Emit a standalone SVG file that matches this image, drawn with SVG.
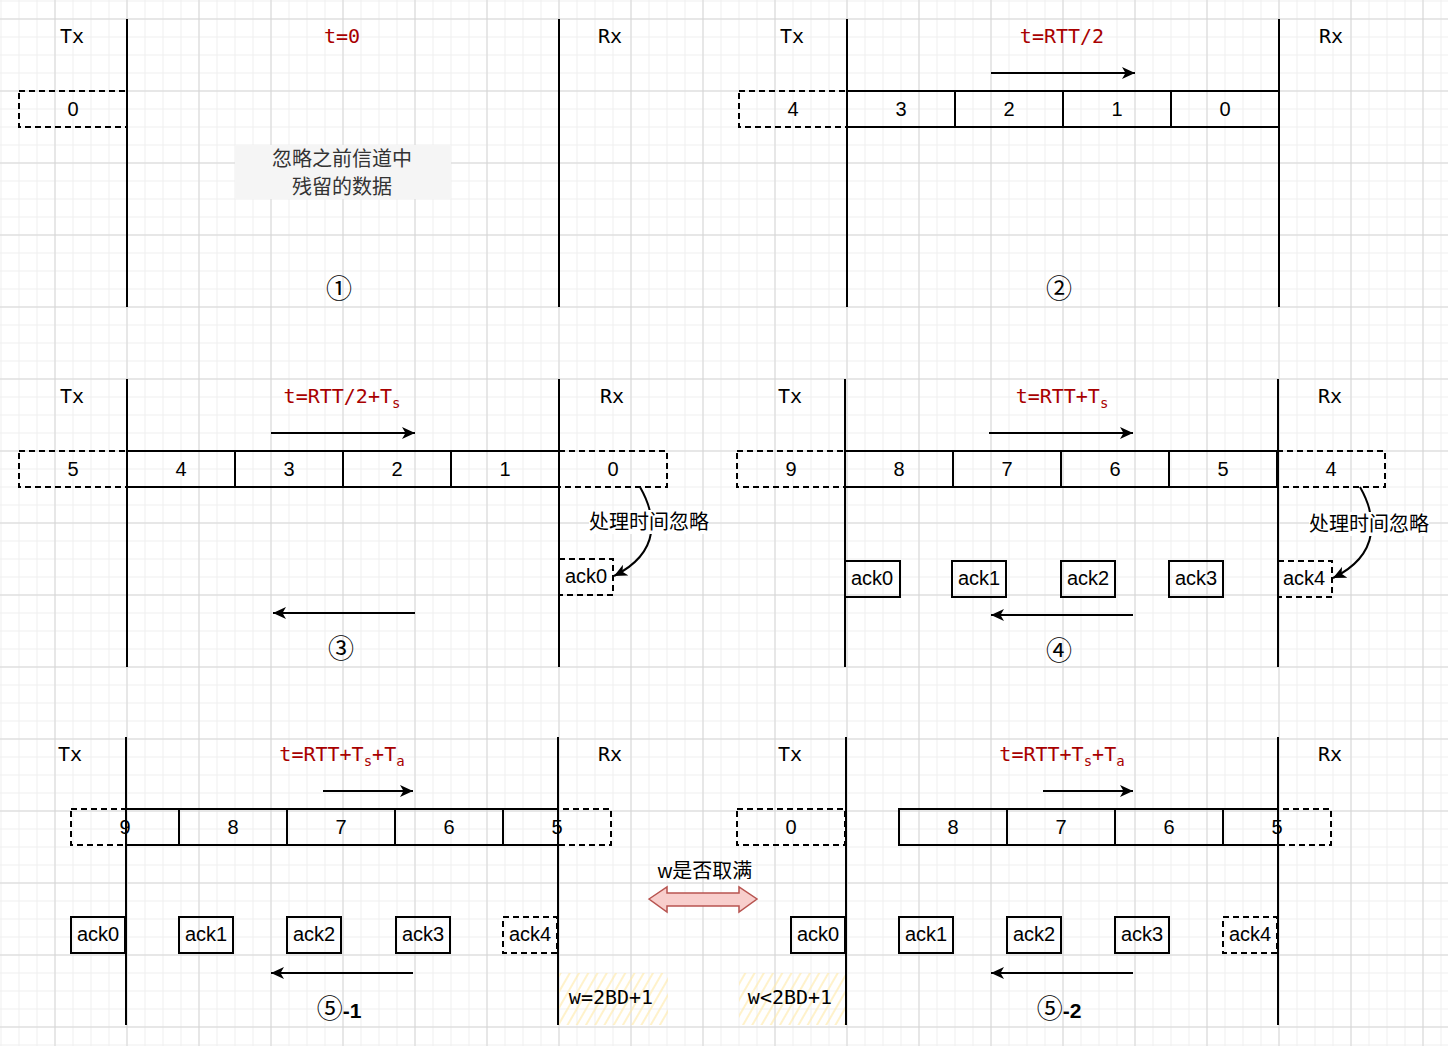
<svg xmlns="http://www.w3.org/2000/svg" width="1448" height="1046" viewBox="0 0 1448 1046">
<style>
.lane{stroke:#000;stroke-width:2;fill:none}
.box{fill:none;stroke:#000;stroke-width:2}
.dash{fill:none;stroke:#000;stroke-width:2;stroke-dasharray:6 4}
.lbl{font-family:"Liberation Sans",Arial,sans-serif;font-size:20px;fill:#000;text-anchor:middle}
.mono{font-family:"DejaVu Sans Mono",monospace;font-size:20px;fill:#000;text-anchor:middle}
.red{font-family:"DejaVu Sans Mono",monospace;font-size:20px;fill:#a80000;text-anchor:middle}
.cjk{font-family:"Liberation Sans","Noto Sans CJK SC",sans-serif;font-size:20px;fill:#000;text-anchor:middle}
.num{font-family:"Noto Sans CJK SC","DejaVu Sans",sans-serif;font-size:26px;fill:#000;text-anchor:middle}
.bnum{font-family:"Liberation Sans",Arial,sans-serif;font-weight:bold;font-size:21px}
.arr{stroke:#000;stroke-width:2;fill:none;marker-end:url(#ah)}
.sub{font-size:14px}
</style>
<defs>
<pattern id="minor" width="18" height="18" patternUnits="userSpaceOnUse" x="0.5" y="0.5">
<path d="M0.5 0 V18 M0 0.5 H18" stroke="#efefef" stroke-width="1" fill="none"/>
</pattern>
<pattern id="major" width="72" height="72" patternUnits="userSpaceOnUse" x="54.5" y="18.5">
<path d="M0.5 0 V72 M0 0.5 H72" stroke="#d6d6d6" stroke-width="1" fill="none"/>
</pattern>
<pattern id="hatch" width="8" height="8" patternUnits="userSpaceOnUse" patternTransform="rotate(-60)">
<path d="M0 4 H8" stroke="#ffe9a8" stroke-width="1.2" fill="none"/>
</pattern>
<marker id="ah" markerWidth="14" markerHeight="12" refX="13" refY="6" orient="auto" markerUnits="userSpaceOnUse">
<path d="M0,0 L13,6 L0,12 L3.5,6 z" fill="#000"/>
</marker>
</defs>
<rect x="0" y="0" width="1448" height="1046" fill="#fff"/>
<rect x="0" y="0" width="1448" height="1046" fill="url(#minor)"/>
<rect x="0" y="0" width="1448" height="1046" fill="url(#major)"/>

<!-- hatched areas -->
<g id="hatch1"><rect x="559" y="973" width="109" height="52" fill="url(#hatch)"/><text class="mono" x="611" y="1004">w=2BD+1</text></g>
<g id="hatch2"><rect x="739" y="973" width="107" height="52" fill="url(#hatch)"/><text class="mono" x="790" y="1004">w&lt;2BD+1</text></g>

<!-- lanes -->
<g id="lanes">
<line class="lane" x1="127" y1="19" x2="127" y2="307"/>
<line class="lane" x1="559" y1="19" x2="559" y2="307"/>
<line class="lane" x1="847" y1="19" x2="847" y2="307"/>
<line class="lane" x1="1279" y1="19" x2="1279" y2="307"/>
<line class="lane" x1="127" y1="379" x2="127" y2="667"/>
<line class="lane" x1="559" y1="379" x2="559" y2="667"/>
<line class="lane" x1="845" y1="379" x2="845" y2="667"/>
<line class="lane" x1="1278" y1="379" x2="1278" y2="667"/>
<line class="lane" x1="126" y1="737" x2="126" y2="1025"/>
<line class="lane" x1="558" y1="737" x2="558" y2="1025"/>
<line class="lane" x1="846" y1="737" x2="846" y2="1025"/>
<line class="lane" x1="1278" y1="737" x2="1278" y2="1025"/>
</g>

<!-- Panel 1 -->
<g id="panel1">
<text class="mono" x="72" y="43">Tx</text>
<text class="red" x="342" y="43">t=0</text>
<text class="mono" x="610" y="43">Rx</text>
<g id="p1-b0"><rect class="dash" x="19" y="91" width="108" height="36"/><text class="lbl" x="73" y="116">0</text></g>
<g id="p1-note"><rect x="235" y="145" width="216" height="54" fill="#f5f5f5"/>
<text class="cjk" x="342" y="166" style="fill:#333">忽略之前信道中</text>
<text class="cjk" x="342" y="194" style="fill:#333">残留的数据</text></g>
<text class="num" x="339" y="298">①</text>
</g>

<!-- Panel 2 -->
<g id="panel2">
<text class="mono" x="792" y="43">Tx</text>
<text class="red" x="1062" y="43">t=RTT/2</text>
<text class="mono" x="1331" y="43">Rx</text>
<g id="p2-b4"><rect class="dash" x="739" y="91" width="108" height="36"/><text class="lbl" x="793" y="116">4</text></g>
<g id="p2-b3"><rect class="box" x="847" y="91" width="108" height="36"/><text class="lbl" x="901" y="116">3</text></g>
<g id="p2-b2"><rect class="box" x="955" y="91" width="108" height="36"/><text class="lbl" x="1009" y="116">2</text></g>
<g id="p2-b1"><rect class="box" x="1063" y="91" width="108" height="36"/><text class="lbl" x="1117" y="116">1</text></g>
<g id="p2-b0"><rect class="box" x="1171" y="91" width="108" height="36"/><text class="lbl" x="1225" y="116">0</text></g>
<text class="num" x="1059" y="298">②</text>
</g>

<!-- Panel 3 -->
<g id="panel3">
<text class="mono" x="72" y="403">Tx</text>
<text class="red" x="342" y="403">t=RTT/2+T<tspan class="sub" dy="5">s</tspan></text>
<text class="mono" x="612" y="403">Rx</text>
<g id="p3-b5"><rect class="dash" x="19" y="451" width="108" height="36"/><text class="lbl" x="73" y="476">5</text></g>
<g id="p3-b4"><rect class="box" x="127" y="451" width="108" height="36"/><text class="lbl" x="181" y="476">4</text></g>
<g id="p3-b3"><rect class="box" x="235" y="451" width="108" height="36"/><text class="lbl" x="289" y="476">3</text></g>
<g id="p3-b2"><rect class="box" x="343" y="451" width="108" height="36"/><text class="lbl" x="397" y="476">2</text></g>
<g id="p3-b1"><rect class="box" x="451" y="451" width="108" height="36"/><text class="lbl" x="505" y="476">1</text></g>
<g id="p3-b0"><rect class="dash" x="559" y="451" width="108" height="36"/><text class="lbl" x="613" y="476">0</text></g>
<g id="p3-ack0"><rect class="dash" x="559" y="559" width="54" height="36"/><text class="lbl" x="586" y="583">ack0</text></g>
<text class="num" x="341" y="658">③</text>
</g>

<!-- Panel 4 -->
<g id="panel4">
<text class="mono" x="790" y="403">Tx</text>
<text class="red" x="1062" y="403">t=RTT+T<tspan class="sub" dy="5">s</tspan></text>
<text class="mono" x="1330" y="403">Rx</text>
<g id="p4-b9"><rect class="dash" x="737" y="451" width="108" height="36"/><text class="lbl" x="791" y="476">9</text></g>
<g id="p4-b8"><rect class="box" x="845" y="451" width="108" height="36"/><text class="lbl" x="899" y="476">8</text></g>
<g id="p4-b7"><rect class="box" x="953" y="451" width="108" height="36"/><text class="lbl" x="1007" y="476">7</text></g>
<g id="p4-b6"><rect class="box" x="1061" y="451" width="108" height="36"/><text class="lbl" x="1115" y="476">6</text></g>
<g id="p4-b5"><rect class="box" x="1169" y="451" width="108" height="36"/><text class="lbl" x="1223" y="476">5</text></g>
<g id="p4-b4"><rect class="dash" x="1277" y="451" width="108" height="36"/><text class="lbl" x="1331" y="476">4</text></g>
<g id="p4-ack0"><rect class="box" x="845" y="561" width="55" height="36"/><text class="lbl" x="872" y="585">ack0</text></g>
<g id="p4-ack1"><rect class="box" x="952" y="561" width="54" height="36"/><text class="lbl" x="979" y="585">ack1</text></g>
<g id="p4-ack2"><rect class="box" x="1061" y="561" width="54" height="36"/><text class="lbl" x="1088" y="585">ack2</text></g>
<g id="p4-ack3"><rect class="box" x="1169" y="561" width="54" height="36"/><text class="lbl" x="1196" y="585">ack3</text></g>
<g id="p4-ack4"><rect class="dash" x="1278" y="561" width="54" height="36"/><text class="lbl" x="1304" y="585">ack4</text></g>
<text class="num" x="1059" y="660">④</text>
</g>

<!-- Panel 5-1 -->
<g id="panel5-1">
<text class="mono" x="70" y="761">Tx</text>
<text class="red" x="342" y="761">t=RTT+T<tspan class="sub" dy="5">s</tspan><tspan dy="-5">+T</tspan><tspan class="sub" dy="5">a</tspan></text>
<text class="mono" x="610" y="761">Rx</text>
<g id="p5a-b9"><rect class="dash" x="71" y="809" width="108" height="36"/><rect class="box" x="126" y="809" width="53" height="36"/><text class="lbl" x="125" y="834">9</text></g>
<g id="p5a-b8"><rect class="box" x="179" y="809" width="108" height="36"/><text class="lbl" x="233" y="834">8</text></g>
<g id="p5a-b7"><rect class="box" x="287" y="809" width="108" height="36"/><text class="lbl" x="341" y="834">7</text></g>
<g id="p5a-b6"><rect class="box" x="395" y="809" width="108" height="36"/><text class="lbl" x="449" y="834">6</text></g>
<g id="p5a-b5"><rect class="dash" x="503" y="809" width="108" height="36"/><rect class="box" x="503" y="809" width="55" height="36"/><text class="lbl" x="557" y="834">5</text></g>
<g id="p5a-ack0"><rect class="box" x="71" y="917" width="54" height="36"/><text class="lbl" x="98" y="941">ack0</text></g>
<g id="p5a-ack1"><rect class="box" x="179" y="917" width="54" height="36"/><text class="lbl" x="206" y="941">ack1</text></g>
<g id="p5a-ack2"><rect class="box" x="287" y="917" width="54" height="36"/><text class="lbl" x="314" y="941">ack2</text></g>
<g id="p5a-ack3"><rect class="box" x="396" y="917" width="54" height="36"/><text class="lbl" x="423" y="941">ack3</text></g>
<g id="p5a-ack4"><rect class="dash" x="503" y="917" width="54" height="36"/><text class="lbl" x="530" y="941">ack4</text></g>
<text class="num" x="339" y="1018">⑤<tspan class="bnum">-1</tspan></text>
</g>

<!-- middle -->
<g id="compare">
<text class="cjk" x="705" y="878">w是否取满</text>
<path d="M649,899 L667,887 L667,893 L739,893 L739,887 L757,899 L739,912 L739,906 L667,906 L667,912 Z" fill="#f8cecc" stroke="#b85450" stroke-width="1.5"/>
</g>

<!-- Panel 5-2 -->
<g id="panel5-2">
<text class="mono" x="790" y="761">Tx</text>
<text class="red" x="1062" y="761">t=RTT+T<tspan class="sub" dy="5">s</tspan><tspan dy="-5">+T</tspan><tspan class="sub" dy="5">a</tspan></text>
<text class="mono" x="1330" y="761">Rx</text>
<g id="p5b-b0"><rect class="dash" x="737" y="809" width="108" height="36"/><text class="lbl" x="791" y="834">0</text></g>
<g id="p5b-b8"><rect class="box" x="899" y="809" width="108" height="36"/><text class="lbl" x="953" y="834">8</text></g>
<g id="p5b-b7"><rect class="box" x="1007" y="809" width="108" height="36"/><text class="lbl" x="1061" y="834">7</text></g>
<g id="p5b-b6"><rect class="box" x="1115" y="809" width="108" height="36"/><text class="lbl" x="1169" y="834">6</text></g>
<g id="p5b-b5"><rect class="dash" x="1223" y="809" width="108" height="36"/><rect class="box" x="1223" y="809" width="55" height="36"/><text class="lbl" x="1277" y="834">5</text></g>
<g id="p5b-ack0"><rect class="box" x="791" y="917" width="54" height="36"/><text class="lbl" x="818" y="941">ack0</text></g>
<g id="p5b-ack1"><rect class="box" x="899" y="917" width="54" height="36"/><text class="lbl" x="926" y="941">ack1</text></g>
<g id="p5b-ack2"><rect class="box" x="1007" y="917" width="54" height="36"/><text class="lbl" x="1034" y="941">ack2</text></g>
<g id="p5b-ack3"><rect class="box" x="1115" y="917" width="54" height="36"/><text class="lbl" x="1142" y="941">ack3</text></g>
<g id="p5b-ack4"><rect class="dash" x="1223" y="917" width="54" height="36"/><text class="lbl" x="1250" y="941">ack4</text></g>
<text class="num" x="1059" y="1018">⑤<tspan class="bnum">-2</tspan></text>
</g>

<!-- connectors -->
<g id="connectors">
<line class="arr" x1="991" y1="73" x2="1135" y2="73"/>
<line class="arr" x1="271" y1="433" x2="415" y2="433"/>
<line class="arr" x1="415" y1="613" x2="273" y2="613"/>
<line class="arr" x1="989" y1="433" x2="1133" y2="433"/>
<line class="arr" x1="1133" y1="615" x2="991" y2="615"/>
<line class="arr" x1="323" y1="791" x2="413" y2="791"/>
<line class="arr" x1="413" y1="973" x2="271" y2="973"/>
<line class="arr" x1="1043" y1="791" x2="1133" y2="791"/>
<line class="arr" x1="1133" y1="973" x2="991" y2="973"/>
<path class="arr" d="M640,487 C656,515 662,552 614,576"/>
<path class="arr" d="M1360,487 C1376,515 1382,554 1333,578"/>
<g id="lbl-proc1"><rect x="589" y="510" width="120" height="24" fill="#fff"/><text class="cjk" x="649" y="529">处理时间忽略</text></g>
<g id="lbl-proc2"><rect x="1309" y="512" width="120" height="24" fill="#fff"/><text class="cjk" x="1369" y="531">处理时间忽略</text></g>
</g>
</svg>
